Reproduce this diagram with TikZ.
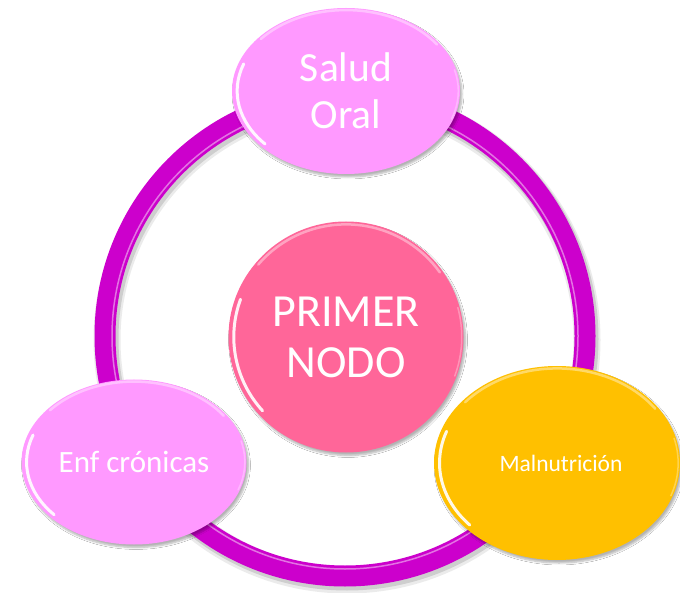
\documentclass[tikz,border=0pt]{standalone}
\usepackage{fontspec}
\setmainfont{Carlito}
\usetikzlibrary{shapes.geometric,shadows.blur}
\definecolor{ringc}{HTML}{CC00CC}
\definecolor{lav}{HTML}{FF99FF}
\definecolor{rose}{HTML}{FF6699}
\definecolor{gold}{HTML}{FFC000}
\newcommand\glossit[3]{%
  \draw[white, opacity=.9, line width=3pt, line cap=round]
    ([shift={(200:{0.955*#2} and {0.955*#3})}]#1.center)
    arc[start angle=200, end angle=138, x radius={0.955*#2}, y radius={0.955*#3}];
  \draw[white, opacity=.4, line width=2.5pt, line cap=round]
    ([shift={(220:{0.975*#2} and {0.975*#3})}]#1.center)
    arc[start angle=220, end angle=325, x radius={0.975*#2}, y radius={0.975*#3}];
  \draw[white, opacity=.3, line width=1.5pt, line cap=round]
    ([shift={(345:{0.985*#2} and {0.985*#3})}]#1.center)
    arc[start angle=345, end angle=380, x radius={0.985*#2}, y radius={0.985*#3}];
}
\begin{document}
\begin{tikzpicture}[x=1pt,y=-1pt,
  bubble/.style={ellipse, inner sep=0pt, text=white, align=center, draw=none,
    blur shadow={shadow blur steps=6, shadow xshift=2pt, shadow yshift=-3pt, shadow opacity=30}}]
\useasboundingbox[fill=white] (0,0) rectangle (680,593);
\coordinate (c) at (345,336);
% ring
\draw[black, opacity=0.08, line width=27pt] ([shift={(2,4)}]c) circle[radius=240];
\draw[black, opacity=0.12, line width=23pt] ([shift={(2,3)}]c) circle[radius=240];
\draw[ringc, line width=21pt] (c) circle[radius=240];
\draw[white, opacity=0.45, line width=1.5pt] (c) circle[radius=233];
% nodes
\node[bubble, fill=rose, minimum width=235pt, minimum height=231pt,
  font=\fontsize{46}{51}\selectfont] (p) at (346,337) {PRIMER\\NODO};
\glossit{p}{117.5}{115.5}
\node[bubble, fill=lav, minimum width=228pt, minimum height=166pt,
  font=\fontsize{41.5}{47}\selectfont] (s) at (346,91) {Salud\\Oral};
\glossit{s}{114}{83}
\node[bubble, fill=lav, minimum width=225pt, minimum height=165pt,
  font=\fontsize{31}{37}\selectfont] (e) at (134,462) {Enf crónicas};
\glossit{e}{112.5}{82.5}
\node[bubble, fill=gold, minimum width=246pt, minimum height=194pt,
  font=\fontsize{23.5}{28}\selectfont] (m) at (557,463) {\hspace*{8pt}Malnutrición};
\glossit{m}{123}{97}
\end{tikzpicture}
\end{document}
